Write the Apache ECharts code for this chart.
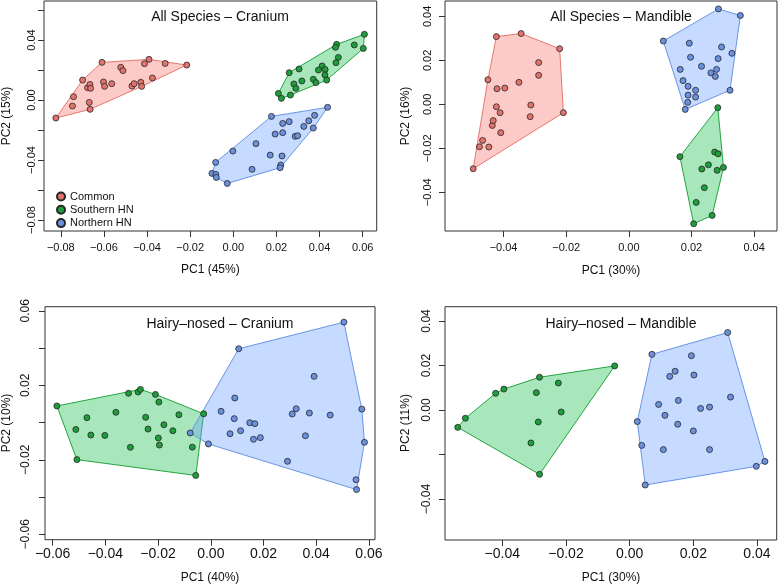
<!DOCTYPE html>
<html><head><meta charset="utf-8">
<script src="https://cdn.jsdelivr.net/npm/echarts@6/dist/echarts.min.js"></script>
<style>html,body{margin:0;padding:0;background:#fff}#c{width:778px;height:584px}</style>
</head><body><div id="c"></div>
<script>
// ---------- Data (PC1, PC2) ----------
// Panel 1: All Species – Cranium
const p1Common = [[-0.0823,-0.012],[-0.0746,-0.004],[-0.0741,0.0022],[-0.0699,0.0133],[-0.0676,0.0082],[-0.0665,0.0104],[-0.0662,0.0078],[-0.0668,-0.0016],[-0.0664,-0.0062],[-0.0609,0.0251],[-0.0602,0.012],[-0.0597,0.0091],[-0.0564,0.0109],[-0.0522,0.0218],[-0.0512,0.0196],[-0.047,0.0093],[-0.046,0.0109],[-0.0429,0.0118],[-0.0425,0.0091],[-0.0412,0.0242],[-0.0391,0.0271],[-0.0375,0.0147],[-0.0316,0.0244],[-0.0216,0.0233]];
const p1Southern = [[0.0608,0.0438],[0.0603,0.0344],[0.0561,0.0367],[0.0479,0.0371],[0.0474,0.0351],[0.0487,0.0284],[0.0476,0.0249],[0.0412,0.0227],[0.0426,0.0204],[0.0395,0.02],[0.0425,0.0167],[0.0433,0.0133],[0.0371,0.0138],[0.0383,0.0116],[0.0305,0.0207],[0.0259,0.0182],[0.0318,0.0127],[0.0281,0.0107],[0.029,0.0078],[0.0265,0.0033],[0.0209,0.0044],[0.0223,0.0011]];
const p1Northern = [[0.0437,-0.0049],[0.0377,-0.0102],[0.035,-0.0138],[0.0371,-0.0187],[0.0327,-0.0176],[0.0259,-0.0144],[0.0229,-0.0156],[0.0177,-0.0109],[0.0194,-0.0227],[0.0229,-0.0218],[0.0287,-0.0242],[0.0298,-0.0238],[0.0105,-0.0291],[-0.0002,-0.034],[0.0171,-0.0367],[0.0226,-0.0373],[0.022,-0.0433],[0.0217,-0.0451],[0.0087,-0.0462],[-0.0082,-0.0416],[-0.0099,-0.0489],[-0.0081,-0.0496],[-0.0079,-0.0516],[-0.0028,-0.0556]];
// Panel 2: All Species – Mandible
const p2Common = [[-0.0497,-0.0293],[-0.0477,-0.0193],[-0.0467,-0.0164],[-0.0447,-0.0194],[-0.0436,-0.0096],[-0.0433,-0.0074],[-0.045,0.0112],[-0.0423,0.0308],[-0.0421,0.0071],[-0.0423,-0.0011],[-0.0411,-0.0038],[-0.0409,-0.0129],[-0.0396,0.0074],[-0.0351,0.01],[-0.0344,0.0322],[-0.0313,-0.0003],[-0.0315,-0.0056],[-0.0288,0.019],[-0.0288,0.0132],[-0.0221,0.0253],[-0.0209,-0.0038]];
const p2Northern = [[0.0286,0.0434],[0.0356,0.0404],[0.011,0.0288],[0.0193,0.0278],[0.0197,0.0214],[0.0285,0.0208],[0.0296,0.0261],[0.0329,0.0232],[0.0232,0.0173],[0.0164,0.0159],[0.0262,0.0143],[0.028,0.0159],[0.0276,0.0127],[0.0173,0.0108],[0.0189,0.0082],[0.0213,0.0064],[0.0189,0.0042],[0.0213,0.0033],[0.0323,0.0064],[0.0188,0.0009],[0.018,-0.0023]];
const p2Southern = [[0.0284,-0.0015],[0.0163,-0.0238],[0.0274,-0.0217],[0.0285,-0.0225],[0.0254,-0.0275],[0.0233,-0.0294],[0.0302,-0.0287],[0.0282,-0.03],[0.0241,-0.0379],[0.0215,-0.0446],[0.0266,-0.0505],[0.0207,-0.0543]];
// Panel 3: Hairy-nosed – Cranium
const p3Southern = [[-0.0584,0.0089],[-0.0512,-0.0037],[-0.0508,-0.0199],[-0.047,0.0026],[-0.0455,-0.0067],[-0.0402,-0.0069],[-0.036,0.0055],[-0.0312,0.0157],[-0.0305,-0.0133],[-0.0276,0.0164],[-0.0267,0.0178],[-0.0247,0.0028],[-0.0238,-0.0035],[-0.021,0.0151],[-0.0197,0.011],[-0.0199,-0.0083],[-0.0195,-0.0121],[-0.0178,-0.0012],[-0.0144,-0.0044],[-0.0121,0.0042],[-0.007,-0.0132],[-0.0057,-0.0284],[-0.0027,0.0047]];
const p3Northern = [[-0.0078,-0.0056],[-0.0009,-0.0115],[0.0039,0.006],[0.0073,-0.006],[0.0089,0.0021],[0.0091,0.0132],[0.0113,-0.0044],[0.0106,0.0396],[0.0148,-0.0001],[0.0167,-0.0006],[0.0162,-0.009],[0.0188,-0.0081],[0.0291,-0.0208],[0.0309,0.0046],[0.0324,0.0074],[0.0359,-0.0071],[0.0374,0.0051],[0.0392,0.0248],[0.0453,0.004],[0.0505,0.0539],[0.0573,0.0072],[0.0583,-0.0106],[0.0551,-0.0307],[0.0553,-0.036]];
// Panel 4: Hairy-nosed – Mandible
const p4Southern = [[-0.054,-0.0078],[-0.0516,-0.0037],[-0.0421,0.0075],[-0.0395,0.0094],[-0.0293,0.0078],[-0.0283,0.0147],[-0.0287,-0.0054],[-0.031,-0.0148],[-0.0283,-0.0289],[-0.0224,0.0121],[-0.0215,-0.0009],[-0.0047,0.0198]];
const p4Northern = [[0.007,0.025],[0.0024,-0.0052],[0.0038,-0.0159],[0.0049,-0.0337],[0.0091,0.0025],[0.0111,-0.0024],[0.0106,-0.0178],[0.0126,0.0151],[0.0143,0.0174],[0.0153,0.0043],[0.0151,-0.0064],[0.0194,0.0244],[0.0202,0.0157],[0.02,-0.0094],[0.0223,0.0007],[0.0251,0.0013],[0.0251,-0.0178],[0.0308,0.0348],[0.0317,0.0058],[0.0398,-0.0253],[0.0425,-0.0231]];

// ---------- Tick values ----------
const p1XTicks = [-0.08,-0.06,-0.04,-0.02,0,0.02,0.04,0.06];
const p1YTicks = [-0.08,-0.06,-0.04,-0.02,0,0.02,0.04,0.06];
const p1YLabels = [-0.08,-0.04,0,0.04];
const p2XTicks = [-0.04,-0.02,0,0.02,0.04];
const p2YTicks = [-0.04,-0.02,0,0.02,0.04];
const p2YLabels = [-0.04,-0.02,0,0.02,0.04];
const p3XTicks = [-0.06,-0.04,-0.02,0,0.02,0.04,0.06];
const p3YTicks = [-0.06,-0.04,-0.02,0,0.02,0.04,0.06];
const p3YLabels = [-0.06,-0.02,0.02,0.06];
const p4XTicks = [-0.04,-0.02,0,0.02,0.04];
const p4YTicks = [-0.04,-0.02,0,0.02,0.04];
const p4YLabels = [-0.04,0,0.02,0.04];

const titles = ['All Species – Cranium','All Species – Mandible','Hairy–nosed – Cranium','Hairy–nosed – Mandible'];
const xNames = ['PC1 (45%)','PC1 (30%)','PC1 (40%)','PC1 (30%)'];
const yNames = ['PC2 (15%)','PC2 (16%)','PC2 (10%)','PC2 (11%)'];
const groupNames = ['Common','Southern HN','Northern HN'];

// ---------- Styles ----------
const FF = '"Liberation Sans", Arial, Helvetica, sans-serif';
const COL = {
  'Common':      {pt:'#E2726C', fill:'rgba(248,118,109,0.38)', stroke:'#E8776F'},
  'Southern HN': {pt:'#1E9E3A', fill:'rgba(0,186,56,0.34)',    stroke:'#24A540'},
  'Northern HN': {pt:'#6A90DE', fill:'rgba(97,156,255,0.36)',  stroke:'#6895E6'}
};

function hull(pts){
  const p = pts.slice().sort((a,b)=>a[0]-b[0]||a[1]-b[1]);
  const cr=(o,a,b)=>(a[0]-o[0])*(b[1]-o[1])-(a[1]-o[1])*(b[0]-o[0]);
  const lo=[]; for(const q of p){while(lo.length>=2&&cr(lo[lo.length-2],lo[lo.length-1],q)<=0)lo.pop();lo.push(q);}
  const up=[]; for(let i=p.length-1;i>=0;i--){const q=p[i];while(up.length>=2&&cr(up[up.length-2],up[up.length-1],q)<=0)up.pop();up.push(q);}
  lo.pop(); up.pop(); return lo.concat(up);
}
function fmt(v){ if(Math.abs(v)<1e-9) return '0.00'; return v.toFixed(2).replace('-','\u2212'); }

const panels = [
  {grid:{left:44,top:1,width:332.7,height:230}, x:[-0.0878,0.0665], y:[-0.0873,0.066],
   xt:p1XTicks, xl:p1XTicks, yt:p1YTicks, yl:p1YLabels, xfs:11, yfs:11, xm:11, ym:7,
   groups:[['Common',p1Common],['Southern HN',p1Southern],['Northern HN',p1Northern]],
   title:[220,17], xn:[210.3,270], yn:[7,116]},
  {grid:{left:445,top:1,width:332,height:230}, x:[-0.0587,0.0473], y:[-0.0576,0.047],
   xt:p2XTicks, xl:p2XTicks, yt:p2YTicks, yl:p2YLabels, xfs:11, yfs:11, xm:11, ym:12,
   groups:[['Common',p2Common],['Northern HN',p2Northern],['Southern HN',p2Southern]],
   title:[621,17], xn:[611,270.5], yn:[405.7,116]},
  {grid:{left:45,top:306.7,width:330,height:233}, x:[-0.0629,0.0623], y:[-0.0629,0.0622],
   xt:p3XTicks, xl:p3XTicks, yt:p3YTicks, yl:p3YLabels, xfs:14, yfs:12, xm:7, ym:13,
   groups:[['Southern HN',p3Southern],['Northern HN',p3Northern]],
   title:[220,324.5], xn:[210,578], yn:[7,423]},
  {grid:{left:445,top:306.7,width:331.7,height:233.3}, x:[-0.058,0.0462], y:[-0.0584,0.0464],
   xt:p4XTicks, xl:p4XTicks, yt:p4YTicks, yl:p4YLabels, xfs:14, yfs:12, xm:7, ym:12,
   groups:[['Southern HN',p4Southern],['Northern HN',p4Northern]],
   title:[621,324.5], xn:[611,578], yn:[405.7,423]}
];

const grid=[], xAxis=[], yAxis=[], series=[], graphic=[];
panels.forEach((P,i)=>{
  grid.push(Object.assign({show:true, borderColor:'#333', borderWidth:1, backgroundColor:'transparent'}, P.grid));
  xAxis.push({type:'value', gridIndex:i, min:P.x[0], max:P.x[1], scale:true, position:'bottom',
    axisLine:{show:false, onZero:false}, splitLine:{show:false},
    axisTick:{show:true, inside:false, length:6, lineStyle:{color:'#333'}, customValues:P.xt},
    axisLabel:{customValues:P.xl, formatter:fmt, fontSize:P.xfs, color:'#111', fontFamily:FF, margin:P.xm, hideOverlap:false}});
  yAxis.push({type:'value', gridIndex:i, min:P.y[0], max:P.y[1], scale:true, position:'left',
    axisLine:{show:false, onZero:false}, splitLine:{show:false},
    axisTick:{show:true, inside:false, length:6, lineStyle:{color:'#333'}, customValues:P.yt},
    axisLabel:{customValues:P.yl, formatter:fmt, fontSize:P.yfs, color:'#111', fontFamily:FF, margin:P.ym, rotate:90, hideOverlap:false}});
  // hulls
  P.groups.forEach(([name,pts])=>{
    const h = hull(pts); const c = COL[name];
    series.push({type:'custom', name:'hull '+name+' '+i, xAxisIndex:i, yAxisIndex:i, silent:true, z:1,
      data:h, renderItem:(params, api)=>{
        if(params.dataIndex!==0) return null;
        return {type:'polygon', shape:{points:h.map(p=>api.coord(p))}, style:{fill:c.fill, stroke:c.stroke, lineWidth:1}};
      }});
  });
  // points
  P.groups.forEach(([name,pts])=>{
    const c = COL[name];
    series.push({type:'scatter', name:name, xAxisIndex:i, yAxisIndex:i, z:3, symbol:'circle', symbolSize:6,
      data:pts, itemStyle:{color:c.pt, borderColor:'#262626', borderWidth:0.8, opacity:1}});
  });
  graphic.push({type:'text', x:P.title[0], y:P.title[1], style:{text:titles[i], align:'center', verticalAlign:'middle', fontSize:14, fontFamily:FF, fill:'#111'}});
  graphic.push({type:'text', x:P.xn[0], y:P.xn[1], style:{text:xNames[i], align:'center', verticalAlign:'middle', fontSize:12, fontFamily:FF, fill:'#111'}});
  graphic.push({type:'text', x:P.yn[0], y:P.yn[1], rotation:Math.PI/2, style:{text:yNames[i], align:'center', verticalAlign:'middle', fontSize:12, fontFamily:FF, fill:'#111'}});
});

const chart = echarts.init(document.getElementById('c'), null, {renderer:'canvas'});
chart.setOption({
  animation:false, backgroundColor:'#fff',
  grid, xAxis, yAxis, series, graphic,
  legend:{data:groupNames, orient:'vertical', left:51, top:186, itemWidth:8, itemHeight:8, itemGap:2.3, selectedMode:false,
    icon:'circle', textStyle:{fontSize:11, fontFamily:FF, color:'#111', lineHeight:11}}
});
</script></body></html>
